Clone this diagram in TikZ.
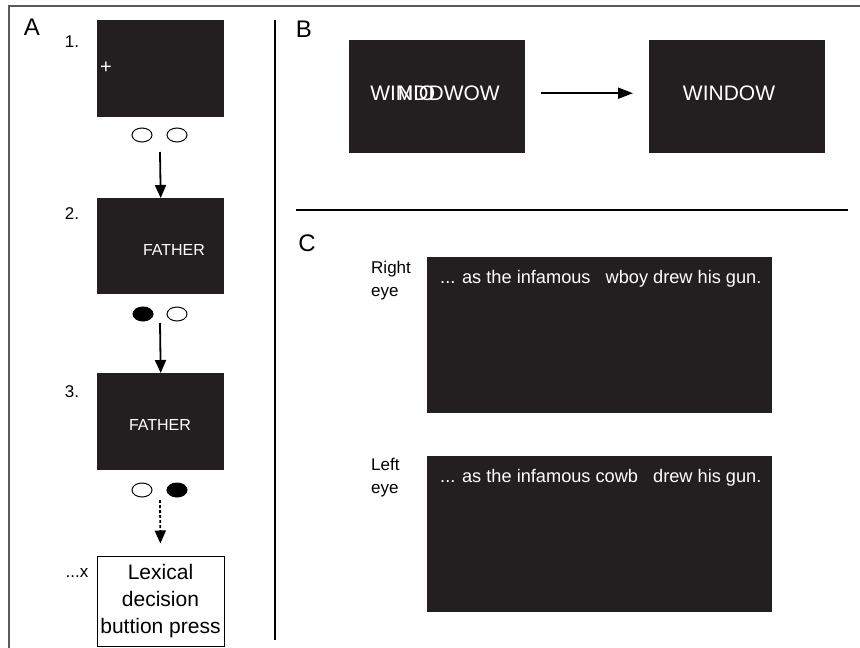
\documentclass[tikz,border=0pt]{standalone}
\usepackage{fontspec}
\setmainfont{Liberation Sans}
\usetikzlibrary{arrows.meta,positioning,shapes.geometric}
\definecolor{screen}{HTML}{231F20}
\definecolor{frame}{HTML}{5A5A5A}

\begin{document}
\begin{tikzpicture}[x=1pt,y=-1pt,
    scr/.style={fill=screen,draw=none,inner sep=0pt,anchor=north west},
    wtxt/.style={text=white,inner sep=0pt},
    eyeo/.style={ellipse,draw,line width=1pt,minimum width=20pt,minimum height=14pt,inner sep=0pt},
    eyef/.style={eyeo,fill=black},
    panel/.style={font=\fontsize{24}{28}\selectfont,inner sep=0pt},
    num/.style={font=\fontsize{17}{20}\selectfont,inner sep=0pt},
    arr/.style={line width=1.8pt,-{Triangle[length=13pt,width=11pt]}}]
      \useasboundingbox (0,0) rectangle (860,648);
      \draw[frame,line width=1.8pt] (9,648) -- (9,6) -- (860,6);
      \draw[line width=2.2pt] (275,20) -- (275,640);
      \draw[line width=2.2pt] (296,210) -- (848,210);
      % panel A
      \node[panel] (la) at (32,27) {A};
      \node[scr,minimum width=127pt,minimum height=97pt] (a1) at (97,20) {};
      \node[scr,minimum width=127pt,minimum height=96pt] (a2) at (97,198) {};
      \node[scr,minimum width=127pt,minimum height=97pt] (a3) at (97,373) {};
      \node[num] (n1) at (72,42) {1.};
      \node[num] (n2) at (72,214) {2.};
      \node[num] (n3) at (72,392) {3.};
      \node[wtxt,font=\fontsize{20}{22}\selectfont] (fix) at (106,68) {+};
      \node[wtxt,font=\fontsize{16}{18}\selectfont] (w2) at (174,250) {FATHER};
      \node[wtxt,font=\fontsize{16}{18}\selectfont] (w3) at (160,425) {FATHER};
      \node[eyeo] (l1) at (142,135) {};
      \node[eyeo] (r1) at (177,135) {};
      \node[eyef] (l2) at (143,314) {};
      \node[eyeo] (r2) at (177,314) {};
      \node[eyeo] (l3) at (142,490) {};
      \node[eyef] (r3) at (177,490) {};
      \coordinate (s1) at (160,152);
      \coordinate (s2) at (160,323);
      \coordinate (s3) at (160,500);
      \node[draw,line width=1pt,minimum width=127pt,minimum height=90pt,inner sep=0pt,
        align=center,font=\fontsize{21}{27}\selectfont] (lex) at (160.5,601) {Lexical\\decision\\buttion press};
      \node[num] (nx) at (77,573) {...x};
      \draw[arr] (s1) -- (a2.north);
      \draw[arr] (s2) -- (a3.north);
      \draw[arr,dash pattern=on 3pt off 2pt,shorten >=12pt] (s3) -- (lex.north);
      % panel B
      \node[panel] (lb) at (304,29) {B};
      \node[scr,minimum width=176pt,minimum height=113pt] (b1) at (349,40) {};
      \node[scr,minimum width=176pt,minimum height=113pt] (b2) at (649,40) {};
      \node[wtxt,font=\fontsize{21}{24}\selectfont] (mix) at (435,93) {WI\rlap{\hspace{2pt}NIO}MDDWOW};
      \node[wtxt,font=\fontsize{21}{24}\selectfont] (win) at (729,93) {WINDOW};
      \draw[line width=1.8pt,-{Triangle[length=15pt,width=11pt]},shorten <=16pt,shorten >=16pt]
        ([yshift=3.5pt]b1.east) -- ([yshift=3.5pt]b2.west);
      % panel C
      \node[panel] (lc) at (307,243) {C};
      \node[scr,minimum width=345pt,minimum height=156pt] (c1) at (427,257) {};
      \node[scr,minimum width=345pt,minimum height=156pt] (c2) at (427,456) {};
      \node[align=left,anchor=west,inner sep=0pt,font=\fontsize{17}{23}\selectfont] (re) at (371,281) {Right\\eye};
      \node[align=left,anchor=west,inner sep=0pt,font=\fontsize{17}{23}\selectfont] (le) at (371,478) {Left\\eye};
      \node[wtxt,anchor=west,font=\fontsize{18.2}{22}\selectfont] (sr) at (440,279) {... as the infamous \hspace{0.55em}wboy drew his gun.};
      \node[wtxt,anchor=west,font=\fontsize{18.2}{22}\selectfont] (sl) at (440,478) {... as the infamous cowb \hspace{0.55em}drew his gun.};
\end{tikzpicture}
\end{document}
